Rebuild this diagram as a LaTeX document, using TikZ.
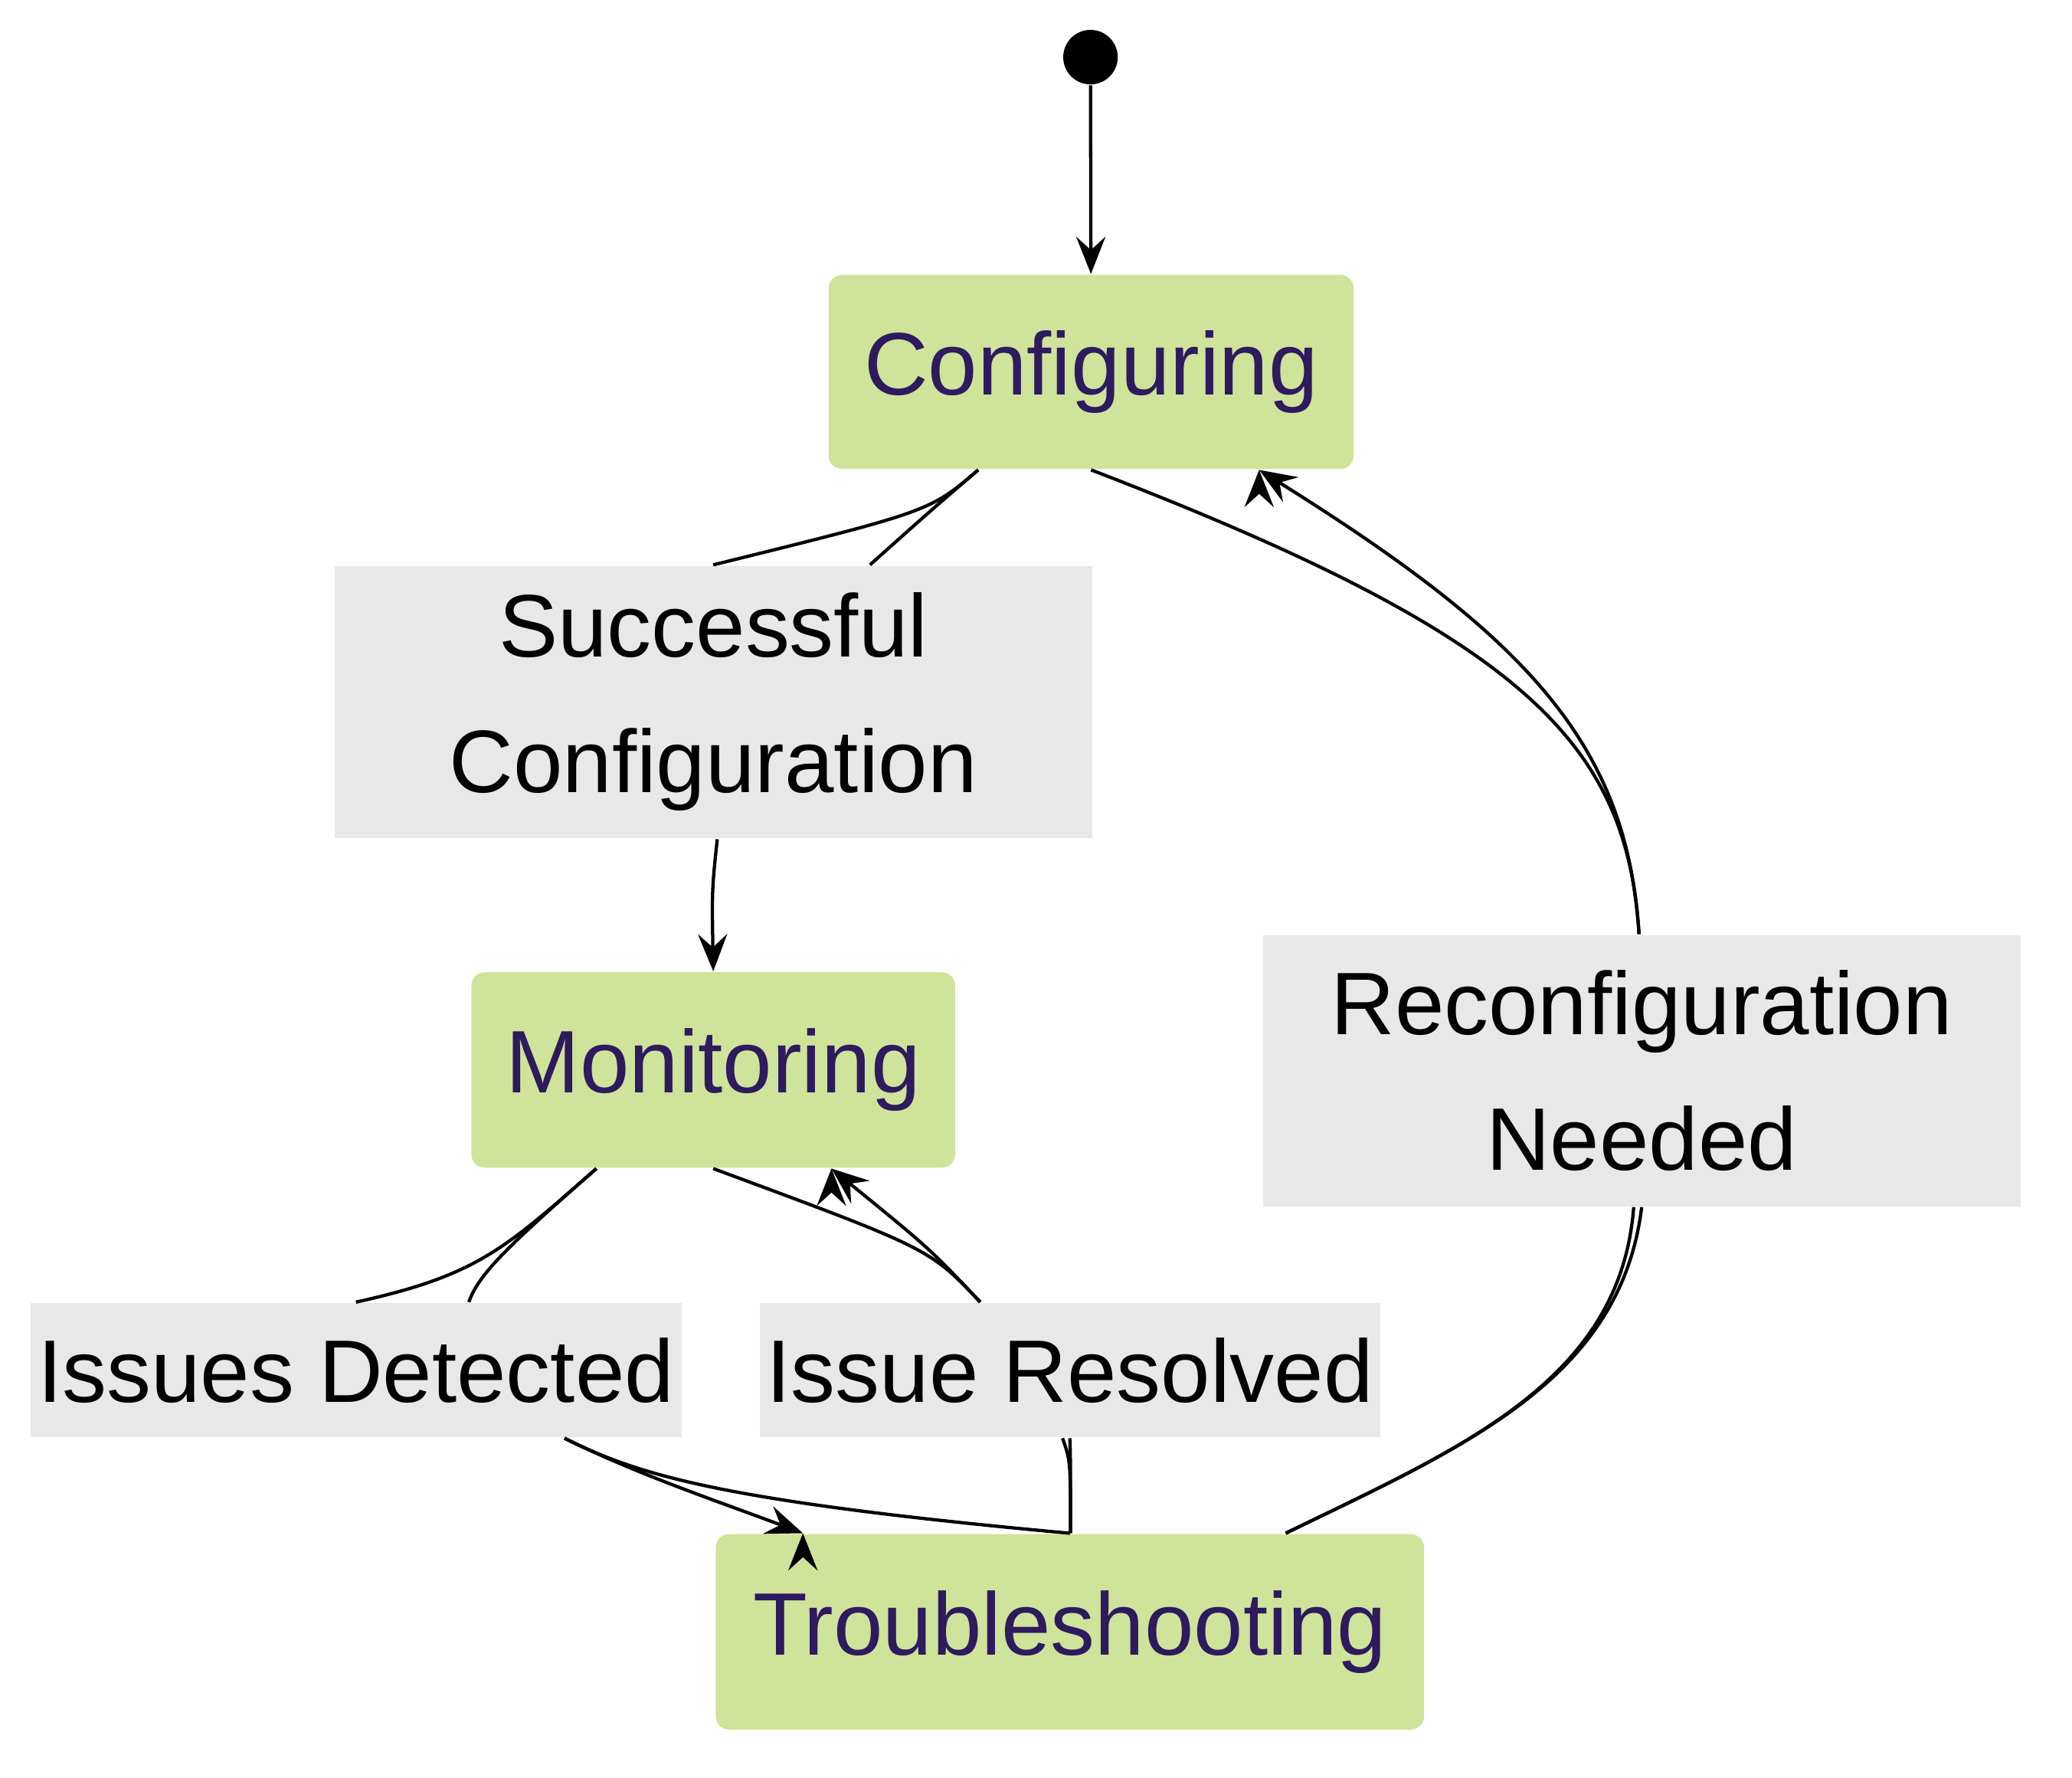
\documentclass[tikz,border=0pt]{standalone}
\usepackage{fontspec}
\setmainfont{Liberation Sans}
\usetikzlibrary{arrows.meta}
\definecolor{stfill}{HTML}{CFE39A}
\definecolor{sttext}{HTML}{2E1A5E}
\definecolor{lbfill}{HTML}{E8E8E8}
\begin{document}
\begin{tikzpicture}[x=0.01cm,y=-0.01cm,
  state/.style={fill=stfill,rounded corners=0.1cm,text=sttext,inner sep=0pt,font=\fontsize{19}{29}\selectfont},
  lbl/.style={fill=lbfill,inner sep=0pt,align=center,font=\fontsize{19}{29}\selectfont},
  edge/.style={line width=0.7pt},
  arr/.style={edge,-{Stealth[length=0.28cm,width=0.22cm,inset=0.1cm]}}]
\useasboundingbox (0,0) rectangle (1560,1338);
\node[circle,fill=black,minimum size=0.41cm,inner sep=0pt] (s) at (821,43) {};
\node[state,minimum width=3.95cm,minimum height=1.46cm] (cfg) at (821.5,280) {Configuring};
\node[state,minimum width=3.64cm,minimum height=1.47cm] (mon) at (537,805.5) {Monitoring};
\node[state,minimum width=5.33cm,minimum height=1.47cm] (tro) at (805.5,1228.5) {Troubleshooting};
\node[lbl,minimum width=5.70cm,minimum height=2.05cm] (l1) at (537,528.5) {Successful\\Configuration};
\node[lbl,minimum width=5.70cm,minimum height=2.04cm] (l2) at (1236,806) {Reconfiguration\\Needed};
\node[lbl,minimum width=4.90cm,minimum height=1.01cm] (l3) at (268,1031.5) {Issues Detected};
\node[lbl,minimum width=4.67cm,minimum height=1.01cm] (l4) at (805.5,1031.5) {Issue Resolved};
\draw[arr] (s) -- (cfg);
\draw[edge] (cfg.south) ++(-85,0) coordinate (a1) .. controls (700,385) .. (l1.north) ++(118,0) coordinate (a2);
\draw[edge] (a1) .. controls (700,385) .. (a2);
\draw[arr] (l1.south) ++(3,0) coordinate (a3) .. controls (536,670) .. (mon.north);
\draw[edge] (mon.south) ++(-88,0) coordinate (b1);
\draw[edge] (b1) .. controls (380,940) and (360,960) .. (l3.north) ++(85,0) coordinate (b2);
\draw[edge] (b1) .. controls (380,940) and (360,960) .. (b2);
\draw[arr] (l3.south) ++(157,0) coordinate (b3) .. controls (480,1110) and (540,1130) .. (tro.north) ++(-201,0) coordinate (b4);
\draw[arr] (b3) .. controls (480,1110) and (540,1130) .. (b4);
\draw[edge] (tro.north) ++(0.5,0) coordinate (c1) .. controls (806,1100) .. (l4.south) ++(-5.5,0) coordinate (c2);
\draw[edge] (c1) .. controls (806,1100) .. (c2);
\draw[arr] (l4.north) ++(-67.5,0) coordinate (c3) .. controls (700,940) .. (mon.south) ++(89,0) coordinate (c4);
\draw[arr] (c3) .. controls (700,940) .. (c4);
\draw[edge] (tro.north) ++(162.5,0) coordinate (d1) .. controls (1100,1090) and (1220,1040) .. (l2.south) ++(-6,0) coordinate (d2);
\draw[edge] (d1) .. controls (1100,1090) and (1220,1040) .. (d2);
\draw[arr] (l2.north) ++(-2,0) coordinate (d3) .. controls (1225,560) and (1150,480) .. (cfg.south) ++(126.5,0) coordinate (d4);
\draw[arr] (d3) .. controls (1225,560) and (1150,480) .. (d4);
\end{tikzpicture}
\end{document}
